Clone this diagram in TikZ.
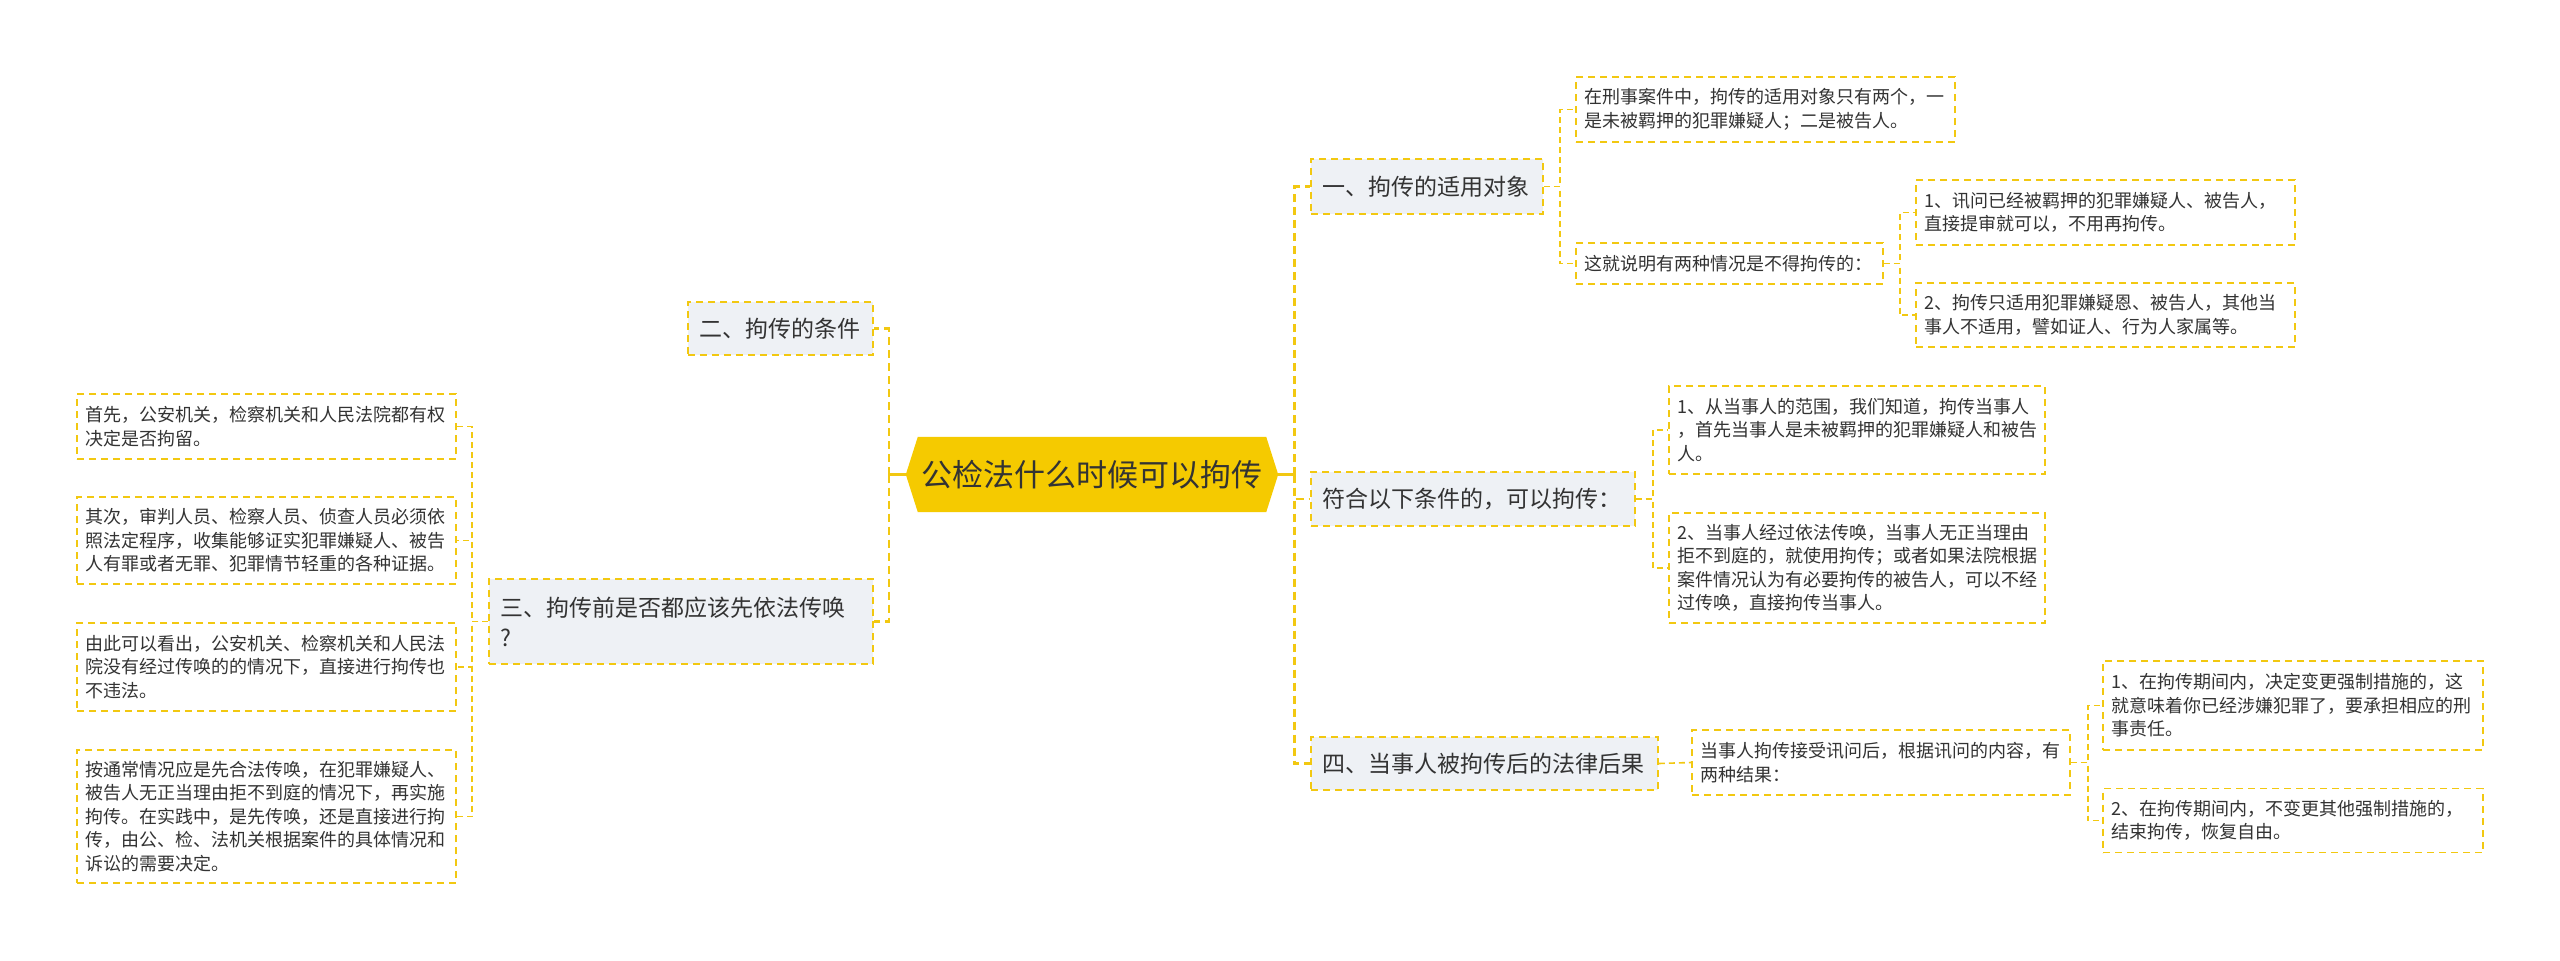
\documentclass[tikz,border=0pt]{standalone}
\usepackage{fontspec}
\setmainfont{Noto Sans CJK SC}
\usetikzlibrary{backgrounds}
\definecolor{ylw}{HTML}{F2C811}
\definecolor{gold}{HTML}{F5CA00}
\definecolor{bfill}{HTML}{EEF1F5}
\definecolor{txt}{HTML}{333333}
\tikzset{
  box/.style={draw=ylw, line width=1.6pt, dash pattern=on 7pt off 5pt, text=txt,
    inner ysep=2pt, align=left, anchor=center},
  leaf/.style={box, fill=white, inner xsep=8pt, font=\fontsize{18}{23.5}\selectfont},
  branch/.style={box, fill=bfill, inner xsep=11pt, font=\fontsize{23}{30}\selectfont},
  centre/.style={minimum width=372pt, minimum height=75pt, inner sep=0pt, text=txt,
    font=\fontsize{31}{36}\selectfont},
  link/.style={draw=ylw, line width=1.6pt, dash pattern=on 6pt off 4pt},
  trunk/.style={draw=ylw, line width=2.6pt, dash pattern=on 8pt off 5pt},
  stub/.style={draw=ylw, line width=3pt}
}
\begin{document}
\begin{tikzpicture}[x=1pt,y=-1pt]
\useasboundingbox (0,0) rectangle (2560,961);

% centre
\node[centre] (c) at (1092,474.5) {公检法什么时候可以拘传};

% right branches
\node[branch, text width=210pt, minimum height=55pt] (b1) at (1427,186.5) {一、拘传的适用对象};
\node[branch, text width=302pt, minimum height=54pt] (b2) at (1473,499) {符合以下条件的，可以拘传：};
\node[branch, text width=325pt, minimum height=53pt] (b4) at (1484.5,763.5) {四、当事人被拘传后的法律后果};

% left branches
\node[branch, text width=163pt, minimum height=53pt] (b5) at (780.5,328.5) {二、拘传的条件};
\node[branch, text width=362pt, minimum height=85pt] (b3) at (681,621.5) {三、拘传前是否都应该先依法传唤\\?};

% right leaves
\node[leaf, text width=363pt, minimum height=65pt] (l1) at (1765.5,109.5)
  {在刑事案件中，拘传的适用对象只有两个，一\\是未被羁押的犯罪嫌疑人；二是被告人。};
\node[leaf, text width=291pt, minimum height=41pt] (l2) at (1729.5,263.5)
  {这就说明有两种情况是不得拘传的：};
\node[leaf, text width=363pt, minimum height=65pt] (l3) at (2105.5,212.5)
  {1、讯问已经被羁押的犯罪嫌疑人、被告人，\\直接提审就可以，不用再拘传。};
\node[leaf, text width=363pt, minimum height=64pt] (l4) at (2105.5,315)
  {2、拘传只适用犯罪嫌疑恩、被告人，其他当\\事人不适用，譬如证人、行为人家属等。};
\node[leaf, text width=360pt, minimum height=88pt] (l5) at (1857,430)
  {1、从当事人的范围，我们知道，拘传当事人\\，首先当事人是未被羁押的犯罪嫌疑人和被告\\人。};
\node[leaf, text width=360pt, minimum height=110pt] (l6) at (1857,568)
  {2、当事人经过依法传唤，当事人无正当理由\\拒不到庭的，就使用拘传；或者如果法院根据\\案件情况认为有必要拘传的被告人，可以不经\\过传唤，直接拘传当事人。};
\node[leaf, text width=362pt, minimum height=65pt] (l7) at (1881,762.5)
  {当事人拘传接受讯问后，根据讯问的内容，有\\两种结果：};
\node[leaf, text width=364pt, minimum height=89pt] (l8) at (2293,705.5)
  {1、在拘传期间内，决定变更强制措施的，这\\就意味着你已经涉嫌犯罪了，要承担相应的刑\\事责任。};
\node[leaf, text width=364pt, minimum height=64pt] (l9) at (2293,820.5)
  {2、在拘传期间内，不变更其他强制措施的，\\结束拘传，恢复自由。};

% left leaves
\node[leaf, text width=363pt, minimum height=65pt] (m1) at (266.5,426.5)
  {首先，公安机关，检察机关和人民法院都有权\\决定是否拘留。};
\node[leaf, text width=363pt, minimum height=87pt] (m2) at (266.5,540.5)
  {其次，审判人员、检察人员、侦查人员必须依\\照法定程序，收集能够证实犯罪嫌疑人、被告\\人有罪或者无罪、犯罪情节轻重的各种证据。};
\node[leaf, text width=363pt, minimum height=88pt] (m3) at (266.5,667)
  {由此可以看出，公安机关、检察机关和人民法\\院没有经过传唤的的情况下，直接进行拘传也\\不违法。};
\node[leaf, text width=363pt, minimum height=133pt] (m4) at (266.5,816.5)
  {按通常情况应是先合法传唤，在犯罪嫌疑人、\\被告人无正当理由拒不到庭的情况下，再实施\\拘传。在实践中，是先传唤，还是直接进行拘\\传，由公、检、法机关根据案件的具体情况和\\诉讼的需要决定。};

% main connectors
\draw[stub] (c.east) -- ++(16,0) coordinate (rj);
\draw[trunk] (rj) |- (b1.west);
\draw[trunk] (rj) |- (b2.west);
\draw[trunk] (rj) |- (b4.west);
\draw[stub] (c.west) -- ++(-17,0) coordinate (lj);
\draw[trunk] (lj) |- (b5.east);
\draw[trunk] (lj) |- (b3.east);

% sub connectors
\draw[link] (b1.east) -- ++(16,0) |- (l1.west);
\draw[link] (b1.east) -- ++(16,0) |- (l2.west);
\draw[link] (l2.east) -- ++(16,0) |- (l3.west);
\draw[link] (l2.east) -- ++(16,0) |- (l4.west);
\draw[link] (b2.east) -- ++(17,0) |- (l5.west);
\draw[link] (b2.east) -- ++(17,0) |- (l6.west);
\draw[link] (b4.east) -- (l7.west);
\draw[link] (l7.east) -- ++(17,0) |- (l8.west);
\draw[link] (l7.east) -- ++(17,0) |- (l9.west);
\draw[link] (b3.west) -- ++(-16,0) |- (m1.east);
\draw[link] (b3.west) -- ++(-16,0) |- (m2.east);
\draw[link] (b3.west) -- ++(-16,0) |- (m3.east);
\draw[link] (b3.west) -- ++(-16,0) |- (m4.east);

\begin{scope}[on background layer]
  \fill[white] (0,0) rectangle (2560,961);
  \fill[gold] (c.west) -- ([xshift=12pt]c.north west) -- ([xshift=-12pt]c.north east)
    -- (c.east) -- ([xshift=-12pt]c.south east) -- ([xshift=12pt]c.south west) -- cycle;
\end{scope}
\end{tikzpicture}
\end{document}
